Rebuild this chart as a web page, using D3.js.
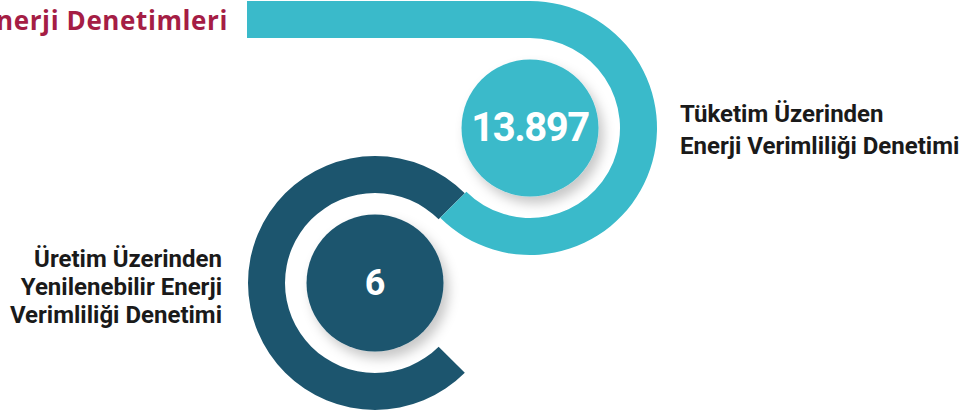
<!DOCTYPE html>
<html>
<head>
<meta charset="utf-8">
<script src="https://cdn.jsdelivr.net/npm/d3@7"></script>
<style>
  html, body { margin: 0; padding: 0; background: #fff; overflow: hidden; }
</style>
</head>
<body>
<div id="chart"></div>
<script>
const title = 'Enerji Denetimleri';
const categories = ['Tüketim Üzerinden Enerji Verimliliği Denetimi', 'Üretim Üzerinden Yenilenebilir Enerji Verimliliği Denetimi'];
const labelLines = [
  ['Tüketim Üzerinden', 'Enerji Verimliliği Denetimi'],
  ['Üretim Üzerinden', 'Yenilenebilir Enerji', 'Verimliliği Denetimi']
];
const values = [13897, 6];

const svgWidth = 969;
const svgHeight = 414;
const teal = '#3abaca';
const navy = '#1c556e';
const sans = 'Roboto, "Noto Sans", sans-serif';

const svg = d3.select('#chart')
  .append('svg')
  .attr('width', svgWidth)
  .attr('height', svgHeight);

const defs = svg.append('defs');
defs.append('filter')
    .attr('id', 'shadow')
    .attr('x', '-30%').attr('y', '-30%')
    .attr('width', '170%').attr('height', '170%')
  .append('feDropShadow')
    .attr('dx', 5)
    .attr('dy', 7)
    .attr('stdDeviation', 6)
    .attr('flood-color', '#000')
    .attr('flood-opacity', 0.22);

const fmt = d3.formatLocale({ decimal: ',', thousands: '.', grouping: [3], currency: ['', ''] }).format(',d');

// ring geometry
const rOuter = 127;
const rInner = 90;
const rDot = 68.5;
const centers = [[530, 128], [375, 283]];

const arc = d3.arc().innerRadius(rInner).outerRadius(rOuter);

// top band leading into the teal ring
svg.append('rect')
  .attr('x', 247)
  .attr('y', centers[0][1] - rOuter)
  .attr('width', centers[0][0] - 247 + 1)
  .attr('height', rOuter - rInner)
  .attr('fill', teal);

// dark ring (top-right, round the left, to bottom-right)
svg.append('path')
  .attr('transform', `translate(${centers[1][0]},${centers[1][1]})`)
  .attr('d', arc({ startAngle: Math.PI * 3 / 4, endAngle: Math.PI * 2 + Math.PI / 4 }))
  .attr('fill', navy);

// teal ring (top, round the right, to bottom-left)
svg.append('path')
  .attr('transform', `translate(${centers[0][0]},${centers[0][1]})`)
  .attr('d', arc({ startAngle: 0, endAngle: Math.PI * 5 / 4 }))
  .attr('fill', teal);

const colors = [teal, navy];
const numSize = [40, 36];

const dots = svg.selectAll('g.dot')
  .data(values)
  .join('g')
    .attr('class', 'dot')
    .attr('transform', (d, i) => `translate(${centers[i][0]},${centers[i][1]})`);

dots.append('circle')
  .attr('r', rDot)
  .attr('fill', (d, i) => colors[i])
  .attr('filter', 'url(#shadow)');

dots.append('text')
  .attr('text-anchor', 'middle')
  .attr('y', (d, i) => i === 0 ? 13 : 12)
  .attr('fill', '#fff')
  .style('font-family', sans)
  .attr('font-weight', 700)
  .attr('font-size', (d, i) => numSize[i])
  .attr('letter-spacing', (d, i) => i === 0 ? -1.5 : 0)
  .text(d => fmt(d));

// title (cut by the left edge, as in the source)
svg.append('text')
  .attr('x', 228)
  .attr('y', 30)
  .attr('text-anchor', 'end')
  .attr('fill', '#a51d45')
  .style('font-family', '"Open Sans", sans-serif')
  .attr('font-weight', 700)
  .attr('font-size', 26)
  .attr('letter-spacing', 0.6)
  .text(title);

// right label
svg.append('text')
  .attr('x', 680)
  .attr('y', 122)
  .attr('fill', '#1a1a1a')
  .style('font-family', sans)
  .attr('font-weight', 700)
  .attr('font-size', 24)
  .selectAll('tspan')
  .data(labelLines[0])
  .join('tspan')
    .attr('x', 680)
    .attr('dy', (d, i) => i === 0 ? 0 : 32)
    .text(d => d);

// left label
svg.append('text')
  .attr('x', 222)
  .attr('y', 267)
  .attr('text-anchor', 'end')
  .attr('fill', '#1a1a1a')
  .style('font-family', sans)
  .attr('font-weight', 700)
  .attr('font-size', 24)
  .selectAll('tspan')
  .data(labelLines[1])
  .join('tspan')
    .attr('x', 222)
    .attr('dy', (d, i) => i === 0 ? 0 : 28)
    .text(d => d);
</script>
</body>
</html>
